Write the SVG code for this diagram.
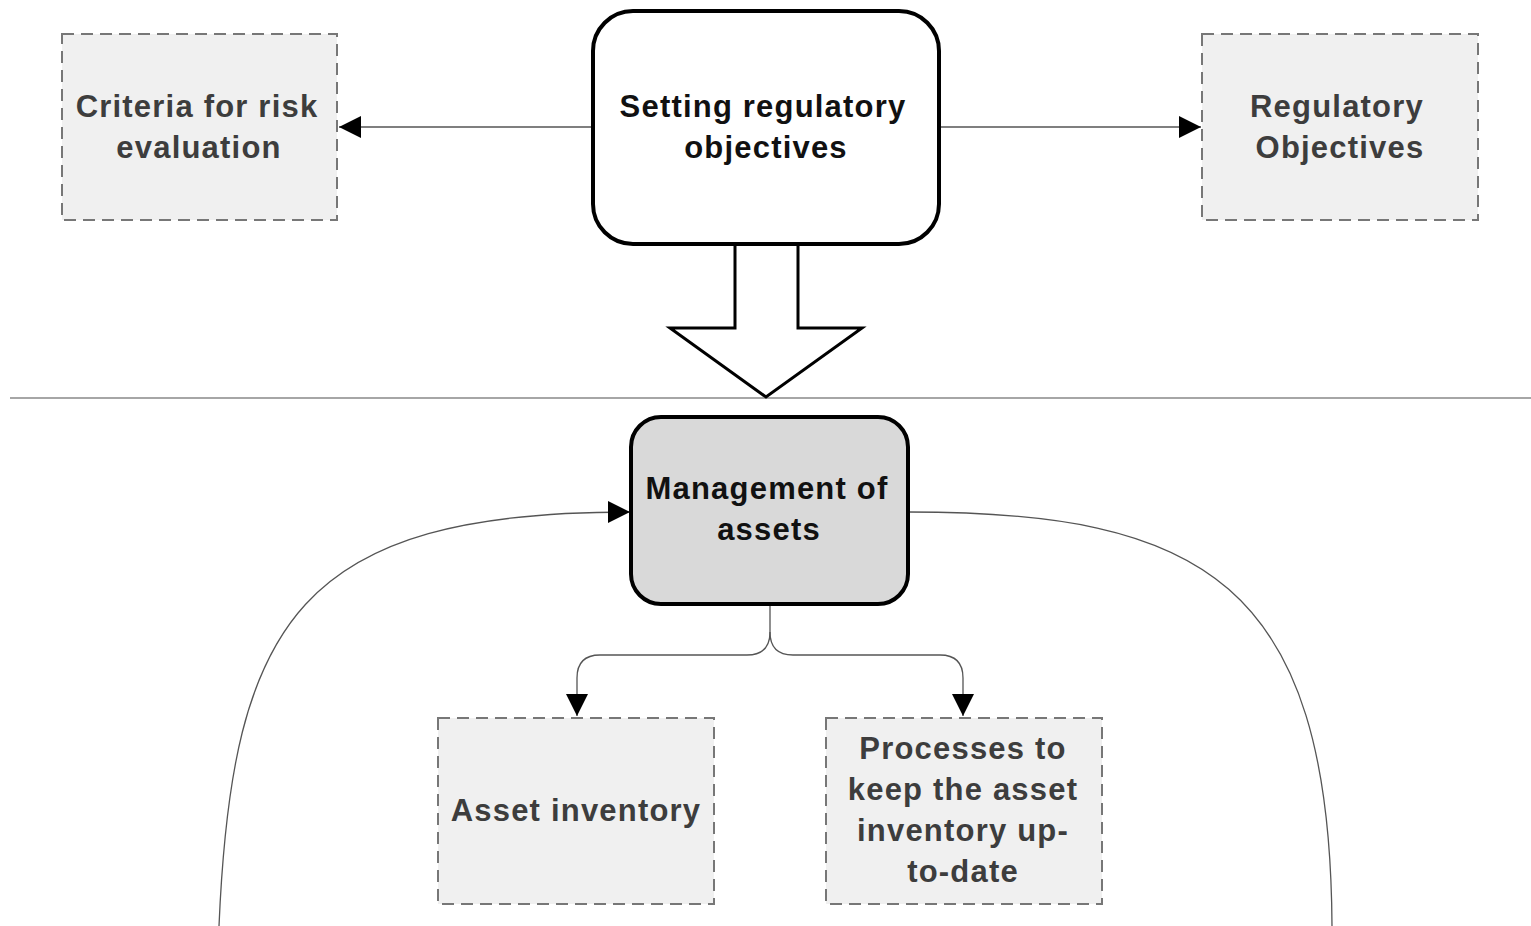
<svg xmlns="http://www.w3.org/2000/svg" width="1531" height="926" viewBox="0 0 1531 926">
<style>
.dash{fill:#f0f0f0;stroke:#777;stroke-width:2;stroke-dasharray:12 7}
.main{stroke:#000;stroke-width:4}
.t{font-family:"Liberation Sans",Arial,sans-serif;font-weight:bold;font-size:31px;text-anchor:middle;letter-spacing:1.2px}
.gt{fill:#3d3d3d}
.bt{fill:#111}
.conn{fill:none;stroke:#555;stroke-width:1.3}
</style>
<defs>
<marker id="ah" viewBox="0 0 10 10" refX="10" refY="5" markerWidth="22" markerHeight="22" markerUnits="userSpaceOnUse" orient="auto">
<path d="M0 0 L10 5 L0 10 Z" fill="#000"/>
</marker>
</defs>
<rect width="1531" height="926" fill="#fff"/>
<line x1="10" y1="398" x2="1531" y2="398" stroke="#888" stroke-width="1.5"/>
<g id="connectors">
<line class="conn" x1="593" y1="127" x2="339" y2="127" marker-end="url(#ah)"/>
<line class="conn" x1="939" y1="127" x2="1201" y2="127" marker-end="url(#ah)"/>
<path d="M735 244 L735 328 L670 328 L766 397 L862 328 L798 328 L798 244" fill="#fff" stroke="#000" stroke-width="3" stroke-linejoin="miter"/>
<path class="conn" d="M219 926 C232 620 300 512 630 512" marker-end="url(#ah)"/>
<path class="conn" d="M908 512 C1200 512 1330 580 1332 926"/>
<path class="conn" d="M770 604 L770 632 Q770 655 747 655 L600 655 Q577 655 577 678 L577 716" marker-end="url(#ah)"/>
<path class="conn" d="M770 632 Q770 655 793 655 L940 655 Q963 655 963 678 L963 716" marker-end="url(#ah)"/>
</g>
<g id="criteria">
<rect class="dash" x="62" y="34" width="275" height="186"/>
<text class="t gt" x="197" y="117">Criteria for risk</text>
<text class="t gt" x="199" y="158">evaluation</text>
</g>
<g id="setting">
<rect class="main" x="593" y="11" width="346" height="233" rx="40" fill="#fff"/>
<text class="t bt" x="763" y="117">Setting regulatory</text>
<text class="t bt" x="766" y="158">objectives</text>
</g>
<g id="regulatory">
<rect class="dash" x="1202" y="34" width="276" height="186"/>
<text class="t gt" x="1337" y="117">Regulatory</text>
<text class="t gt" x="1340" y="158">Objectives</text>
</g>
<g id="management">
<rect class="main" x="631" y="417" width="277" height="187" rx="30" fill="#d9d9d9"/>
<text class="t bt" x="767" y="499">Management of</text>
<text class="t bt" x="769" y="540">assets</text>
</g>
<g id="inventory">
<rect class="dash" x="438" y="718" width="276" height="186"/>
<text class="t gt" x="576" y="821">Asset inventory</text>
</g>
<g id="processes">
<rect class="dash" x="826" y="718" width="276" height="186"/>
<text class="t gt" x="963" y="759">Processes to</text>
<text class="t gt" x="963" y="800">keep the asset</text>
<text class="t gt" x="963" y="841">inventory up-</text>
<text class="t gt" x="963" y="882">to-date</text>
</g>
</svg>
